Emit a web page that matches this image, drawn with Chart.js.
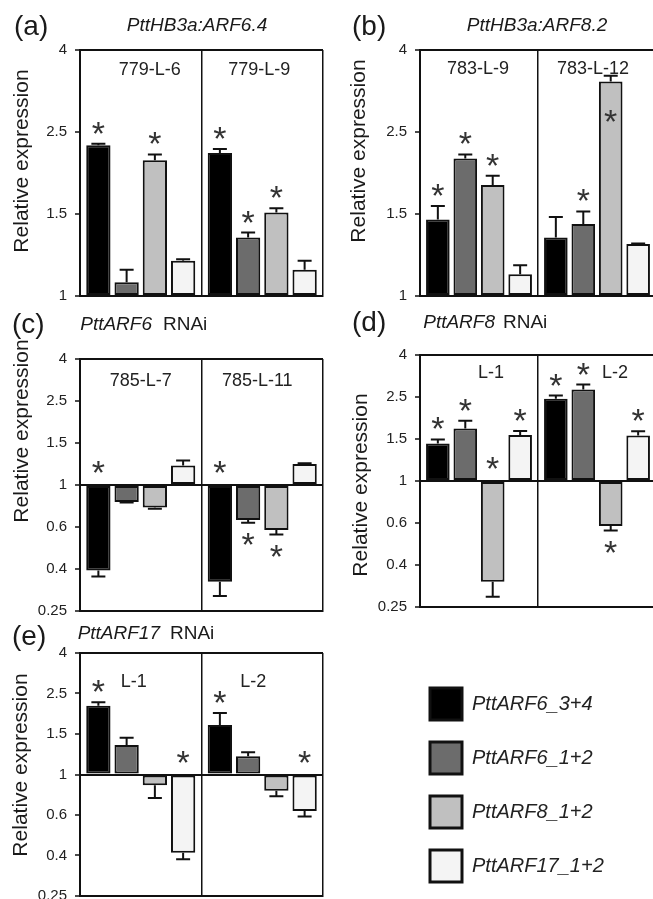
<!DOCTYPE html>
<html>
<head>
<meta charset="utf-8">
<script src="https://cdn.jsdelivr.net/npm/chart.js@4.4.1/dist/chart.umd.min.js"></script>
<style>
    body { margin: 0; background: #fff; overflow: hidden; }
    #page { position: relative; width: 653px; height: 899px; overflow: hidden; background: #fff; }
    canvas { position: absolute; }
</style>
</head>
<body>
<div id="page">
    <canvas id="panelA"></canvas>
    <canvas id="panelB"></canvas>
    <canvas id="panelC"></canvas>
    <canvas id="panelD"></canvas>
    <canvas id="panelE"></canvas>
    <canvas id="legend"></canvas>
</div>
<script>
var seriesNames = ["PttARF6_3+4", "PttARF6_1+2", "PttARF8_1+2", "PttARF17_1+2"];
var seriesColors = ["#000000", "#6c6c6c", "#c0c0c0", "#f4f4f4"];

// log axis, ticks at 4^(k/3), printed rounded
var tickValues = [0.25, 0.397, 0.63, 1, 1.587, 2.52, 4];
var tickLabels = ["0.25", "0.4", "0.6", "1", "1.5", "2.5", "4"];

// rows = series (same order as seriesNames), columns = lines
// stars: 1 = past the error bar, -1 = other side of 1, 2 = inside the bar
var linesA = ["779-L-6", "779-L-9"];
var valuesA = [[2.34, 2.24], [1.08, 1.39], [2.15, 1.60], [1.22, 1.16]];
var errorsA = [[0.02, 0.05], [0.08, 0.04], [0.07, 0.04], [0.01, 0.06]];
var starsA = [[1, 1], [0, 1], [1, 1], [0, 0]];

var linesB = ["783-L-9", "783-L-12"];
var valuesB = [[1.54, 1.39], [2.17, 1.50], [1.87, 3.35], [1.13, 1.34]];
var errorsB = [[0.12, 0.17], [0.05, 0.11], [0.10, 0.11], [0.06, 0.005]];
var starsB = [[1, 0], [1, 1], [1, 2], [0, 0]];

var linesC = ["785-L-7", "785-L-11"];
var valuesC = [[0.39, 0.345], [0.83, 0.68], [0.78, 0.61], [1.24, 1.26]];
var errorsC = [[0.025, 0.05], [0.005, 0.02], [0.01, 0.03], [0.07, 0.01]];
var starsC = [[-1, -1], [0, 1], [0, 1], [0, 0]];

var linesD = ["L-1", "L-2"];
var valuesD = [[1.51, 2.47], [1.78, 2.74], [0.33, 0.61], [1.66, 1.65]];
var errorsD = [[0.07, 0.09], [0.16, 0.15], [0.05, 0.03], [0.075, 0.08]];
var starsD = [[1, 1], [1, 1], [-1, 1], [1, 1]];

var linesE = ["L-1", "L-2"];
var valuesE = [[2.19, 1.76], [1.40, 1.23], [0.885, 0.83], [0.41, 0.66]];
var errorsE = [[0.09, 0.26], [0.12, 0.06], [0.12, 0.05], [0.03, 0.04]];
var starsE = [[1, 1], [0, 0], [0, 0], [-1, -1]];

var FONT = "'Liberation Sans', Arial, sans-serif";
Chart.defaults.font.family = FONT;
Chart.defaults.color = "#222";

// box = canvas [left, top, width, height], area = plot [left, top, right, bottom], page px
var panels = [
    {
        id: "panelA", box: [0, 0, 330, 316], area: [80, 50, 323, 296], yMin: 1,
        lines: linesA, values: valuesA, errors: errorsA, stars: starsA,
        letter: "(a)", letterAt: [14, 27], yTitleAt: [22, 161],
        title: [{ text: "PttHB3a:ARF6.4", italic: true, x: 197, y: 26, align: "center" }],
        lineY: 70, lineShift: [9, -3]
    },
    {
        id: "panelB", box: [337, 0, 323, 316], area: [420, 50, 656, 296], yMin: 1,
        lines: linesB, values: valuesB, errors: errorsB, stars: starsB,
        letter: "(b)", letterAt: [352, 27], yTitleAt: [359, 151],
        title: [{ text: "PttHB3a:ARF8.2", italic: true, x: 537, y: 26, align: "center" }],
        lineY: 69, lineShift: [-1, -4]
    },
    {
        id: "panelC", box: [0, 300, 330, 331], area: [80, 359, 323, 611], yMin: 0.25,
        lines: linesC, values: valuesC, errors: errorsC, stars: starsC,
        letter: "(c)", letterAt: [12, 325], yTitleAt: [22, 431],
        title: [
            { text: "PttARF6", italic: true, x: 152, y: 325, align: "right" },
            { text: "RNAi", italic: false, x: 163, y: 325, align: "left" }
        ],
        lineY: 381, lineShift: [0, -5]
    },
    {
        id: "panelD", box: [337, 300, 323, 327], area: [420, 355, 656, 607], yMin: 0.25,
        lines: linesD, values: valuesD, errors: errorsD, stars: starsD,
        letter: "(d)", letterAt: [352, 323], yTitleAt: [361, 485],
        title: [
            { text: "PttARF8", italic: true, x: 495, y: 323, align: "right" },
            { text: "RNAi", italic: false, x: 503, y: 323, align: "left" }
        ],
        lineY: 373, lineShift: [12, 18]
    },
    {
        id: "panelE", box: [0, 605, 330, 311], area: [80, 653, 323, 896], yMin: 0.25,
        lines: linesE, values: valuesE, errors: errorsE, stars: starsE,
        letter: "(e)", letterAt: [12, 637], yTitleAt: [21, 765],
        title: [
            { text: "PttARF17", italic: true, x: 160, y: 634, align: "right" },
            { text: "RNAi", italic: false, x: 170, y: 634, align: "left" }
        ],
        lineY: 682, lineShift: [-7, -9]
    }
];

function makeDecor(p) {
    var ox = p.box[0], oy = p.box[1];
    return {
        id: "panelDecor",
        afterDatasetsDraw: function(chart) {
            var ctx = chart.ctx;
            var yScale = chart.scales.y;
            var xScale = chart.scales.x;
            var base = yScale.getPixelForValue(1);
            ctx.save();
            ctx.strokeStyle = "#111";
            ctx.lineWidth = 2;
            ctx.fillStyle = "#333";
            ctx.font = "34px " + FONT;
            ctx.textAlign = "center";
            ctx.textBaseline = "alphabetic";
            var m = ctx.measureText("*");
            var shift = (m.actualBoundingBoxAscent - m.actualBoundingBoxDescent) / 2;
            p.values.forEach(function(row, k) {
                var meta = chart.getDatasetMeta(k);
                row.forEach(function(v, i) {
                    var bx = meta.data[i].x;
                    var up = v >= 1;
                    var tip = yScale.getPixelForValue(v);
                    var yEnd = yScale.getPixelForValue(up ? v + p.errors[k][i] : v - p.errors[k][i]);
                    ctx.beginPath();
                    ctx.moveTo(bx, tip);
                    ctx.lineTo(bx, yEnd);
                    ctx.moveTo(bx - 7, yEnd);
                    ctx.lineTo(bx + 7, yEnd);
                    ctx.stroke();
                    var s = p.stars[k][i];
                    var yc = null;
                    if (s === 1) yc = up ? yEnd - 16 : yEnd + 16;
                    if (s === -1) yc = up ? base + 18 : base - 18;
                    if (s === 2) yc = up ? tip + 35 : tip - 35;
                    if (yc !== null) ctx.fillText("*", bx, yc + shift);
                });
            });
            // line names inside the frame
            ctx.fillStyle = "#222";
            ctx.font = "18px " + FONT;
            ctx.textBaseline = "middle";
            chart.data.labels.forEach(function(name, i) {
                ctx.fillText(name, xScale.getPixelForValue(i) + p.lineShift[i], p.lineY - oy);
            });
            ctx.restore();
        },
        afterDraw: function(chart) {
            var ctx = chart.ctx;
            ctx.save();
            ctx.fillStyle = "#1a1a1a";
            ctx.textBaseline = "middle";
            ctx.textAlign = "left";
            ctx.font = "28px " + FONT;
            ctx.fillText(p.letter, p.letterAt[0] - ox, p.letterAt[1] - oy);
            p.title.forEach(function(part) {
                ctx.font = (part.italic ? "italic " : "") + "19px " + FONT;
                ctx.textAlign = part.align;
                ctx.fillText(part.text, part.x - ox, part.y - oy);
            });
            ctx.font = "21px " + FONT;
            ctx.textAlign = "center";
            ctx.translate(p.yTitleAt[0] - ox, p.yTitleAt[1] - oy);
            ctx.rotate(-Math.PI / 2);
            ctx.fillText("Relative expression", 0, 0);
            ctx.restore();
        }
    };
}

function buildPanel(p) {
    var canvas = document.getElementById(p.id);
    canvas.width = p.box[2];
    canvas.height = p.box[3];
    canvas.style.left = p.box[0] + "px";
    canvas.style.top = p.box[1] + "px";
    var datasets = [];
    for (var k = 0; k < seriesNames.length; k++) {
        datasets.push({
            label: seriesNames[k],
            data: p.values[k],
            base: 1,
            backgroundColor: seriesColors[k],
            borderColor: "#111",
            borderWidth: 2,
            borderSkipped: false,
            categoryPercentage: 0.93,
            barPercentage: 0.86
        });
    }
    var ticks = tickValues.filter(function(v) { return v >= p.yMin; });
    return new Chart(canvas, {
        type: "bar",
        data: { labels: p.lines, datasets: datasets },
        options: {
            responsive: false,
            animation: false,
            events: [],
            devicePixelRatio: 1,
            layout: {
                padding: {
                    left: 0,
                    top: p.area[1] - p.box[1],
                    right: p.box[0] + p.box[2] - p.area[2],
                    bottom: p.box[1] + p.box[3] - p.area[3]
                }
            },
            plugins: {
                legend: { display: false },
                tooltip: { enabled: false }
            },
            scales: {
                x: {
                    afterFit: function(scale) { scale.height = 0; },
                    ticks: { display: false },
                    grid: { offset: true, color: "#111", lineWidth: 1.5, drawTicks: false },
                    border: { color: "#111", width: 2 }
                },
                y: {
                    type: "logarithmic",
                    min: p.yMin,
                    max: 4,
                    afterBuildTicks: function(scale) {
                        scale.ticks = ticks.map(function(v) { return { value: v }; });
                    },
                    afterFit: function(scale) { scale.width = p.area[0] - p.box[0]; },
                    ticks: {
                        autoSkip: false,
                        padding: 8,
                        color: "#222",
                        font: { size: 15 },
                        callback: function(value) { return tickLabels[tickValues.indexOf(value)]; }
                    },
                    grid: {
                        lineWidth: 2,
                        tickLength: 5,
                        tickWidth: 1.5,
                        tickColor: "#111",
                        color: function(c) {
                            return c.tick && (c.tick.value === 1 || c.tick.value === 4) ? "#111" : "rgba(0,0,0,0)";
                        }
                    },
                    border: { color: "#111", width: 2 }
                }
            }
        },
        plugins: [makeDecor(p)]
    });
}

panels.forEach(buildPanel);

// legend as its own small chart
var legendCanvas = document.getElementById("legend");
legendCanvas.width = 245;
legendCanvas.height = 245;
legendCanvas.style.left = "408px";
legendCanvas.style.top = "666px";
new Chart(legendCanvas, {
    type: "bar",
    data: {
        labels: [],
        datasets: seriesNames.map(function(name, k) {
            return { label: name, data: [], backgroundColor: seriesColors[k], borderColor: "#111", borderWidth: 3 };
        })
    },
    options: {
        responsive: false,
        animation: false,
        events: [],
        devicePixelRatio: 1,
        layout: { padding: 0 },
        scales: { x: { display: false }, y: { display: false } },
        plugins: {
            tooltip: { enabled: false },
            legend: {
                position: "left",
                align: "start",
                maxWidth: 245,
                labels: {
                    boxWidth: 32,
                    boxHeight: 32,
                    padding: 22,
                    color: "#222",
                    font: { size: 20, style: "italic" }
                }
            }
        }
    }
});
</script>
</body>
</html>
